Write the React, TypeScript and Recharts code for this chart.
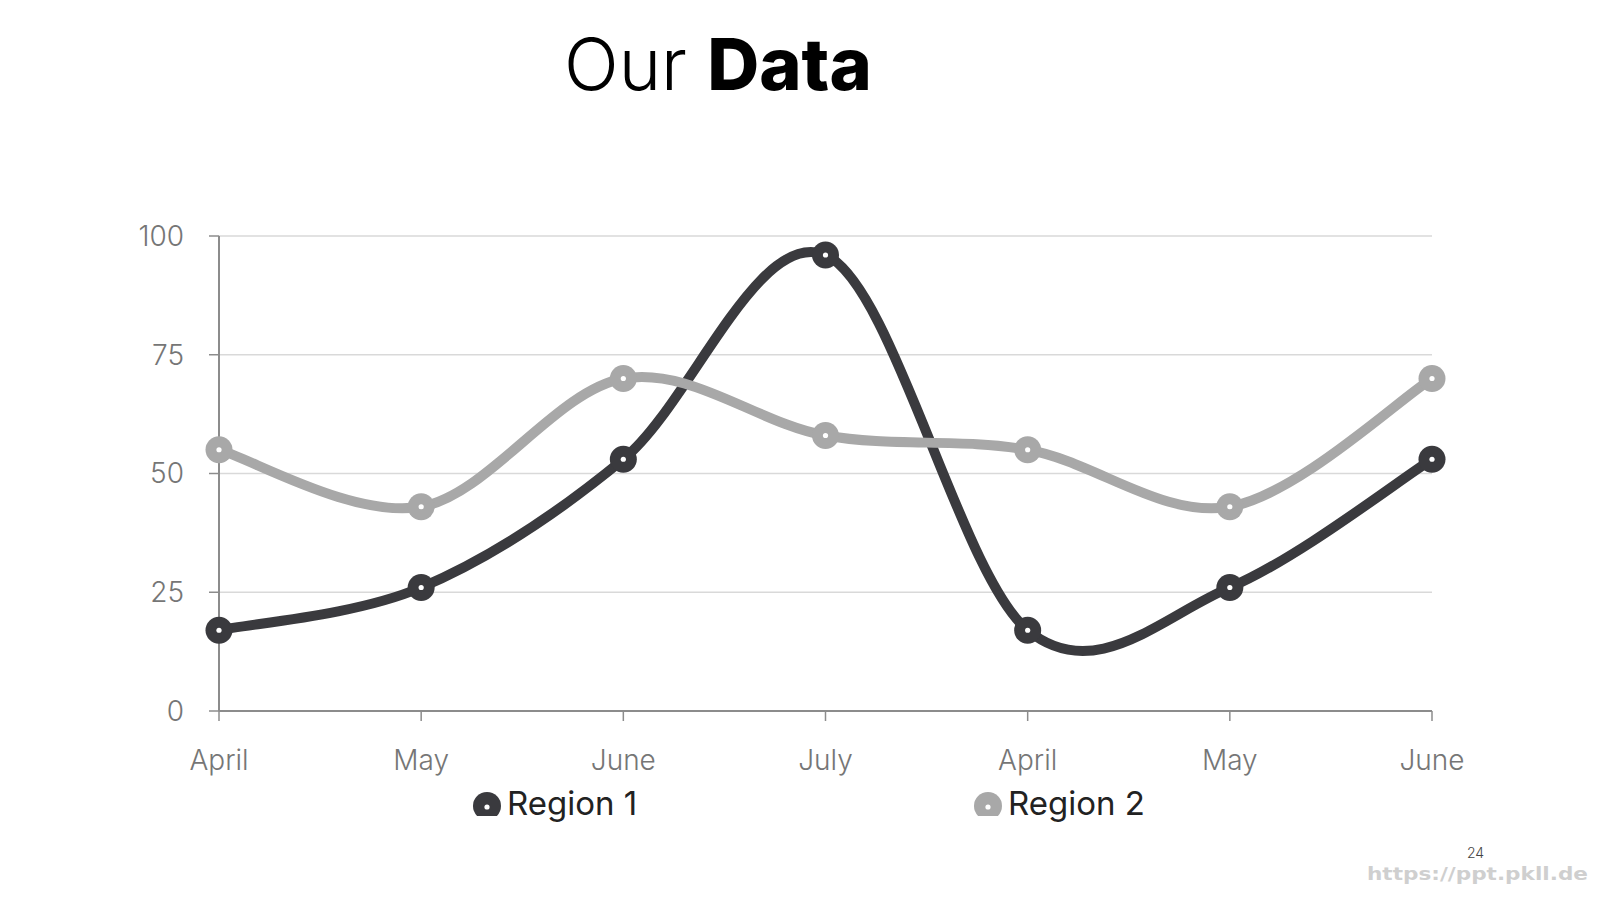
import React from 'react';
import { LineChart, Line, XAxis, YAxis, CartesianGrid } from 'recharts';

const categories = ['April', 'May', 'June', 'July', 'April', 'May', 'June'];
const region1 = [17, 26, 53, 96, 17, 26, 53];
const region2 = [55, 43, 70, 58, 55, 43, 70];
const yTicks = [0, 25, 50, 75, 100];
const seriesNames = ['Region 1', 'Region 2'];

const data = categories.map((c, i) => ({ idx: i, cat: c, r1: region1[i], r2: region2[i] }));

const DARK = '#3a3a3e';
const GREY = '#a8a8a8';
const FONT = 'Inter, "Open Sans", sans-serif';

// Excel-like smoothing (Catmull-Rom / cardinal tension 0)
const curveSmooth = (context: any) => {
  let pts: [number, number][] = [];
  return {
    areaStart() {},
    areaEnd() {},
    lineStart() {
      pts = [];
    },
    lineEnd() {
      if (!pts.length) return;
      context.moveTo(pts[0][0], pts[0][1]);
      for (let i = 0; i < pts.length - 1; i++) {
        const p0 = pts[i - 1] || pts[i];
        const p1 = pts[i];
        const p2 = pts[i + 1];
        const p3 = pts[i + 2] || p2;
        context.bezierCurveTo(
          p1[0] + (p2[0] - p0[0]) / 6,
          p1[1] + (p2[1] - p0[1]) / 6,
          p2[0] - (p3[0] - p1[0]) / 6,
          p2[1] - (p3[1] - p1[1]) / 6,
          p2[0],
          p2[1]
        );
      }
    },
    point(x: number, y: number) {
      pts.push([+x, +y]);
    },
  };
};

const makeDot = (color: string) => (props: any) => {
  const { cx, cy, index } = props;
  if (cx == null || cy == null) return <g key={`d${index}`} />;
  return (
    <g key={`d${color}${index}`}>
      <circle cx={cx} cy={cy} r={13.5} fill={color} />
      <circle cx={cx} cy={cy} r={2.6} fill="#ffffff" />
    </g>
  );
};

const LegendIcon = ({ x, y, color }: { x: number; y: number; color: string }) => (
  <g>
    <clipPath id={`clip${color.replace('#', '')}`}>
      <rect x={x - 16} y={y - 16} width={32} height={26} />
    </clipPath>
    <circle cx={x} cy={y} r={14} fill={color} clipPath={`url(#clip${color.replace('#', '')})`} />
    <circle cx={x} cy={y + 1} r={2.6} fill="#fff" />
  </g>
);

export default function App() {
  return (
    <div style={{ position: 'absolute', left: 0, top: 0, width: 1600, height: 900, background: '#fff' }}>
      <LineChart
        width={1600}
        height={900}
        data={data}
        margin={{ top: 236, right: 168, left: 159, bottom: 129 }}
      >
        <CartesianGrid horizontal vertical={false} stroke="#d9d9d9" strokeWidth={1.5} />
        <XAxis
          dataKey="idx"
          type="category"
          height={60}
          tickFormatter={(v: any) => categories[v]}
          tickSize={10}
          tickMargin={29}
          axisLine={{ stroke: '#8c8c8c', strokeWidth: 2 }}
          tickLine={{ stroke: '#8c8c8c', strokeWidth: 1.5 }}
          tick={{ fill: '#767676', fontSize: 28, fontFamily: FONT, fontWeight: 300 }}
          interval={0}
        />
        <YAxis
          width={60}
          domain={[0, 100]}
          ticks={yTicks}
          tickSize={10}
          tickMargin={25}
          axisLine={{ stroke: '#8c8c8c', strokeWidth: 2 }}
          tickLine={{ stroke: '#8c8c8c', strokeWidth: 1.5 }}
          tick={{ fill: '#767676', fontSize: 28, fontFamily: FONT, fontWeight: 300 }}
        />
        <Line
          dataKey="r1"
          name={seriesNames[0]}
          type={curveSmooth as any}
          stroke={DARK}
          strokeWidth={10}
          dot={makeDot(DARK)}
          activeDot={false}
          isAnimationActive={false}
        />
        <Line
          dataKey="r2"
          name={seriesNames[1]}
          type={curveSmooth as any}
          stroke={GREY}
          strokeWidth={10}
          dot={makeDot(GREY)}
          activeDot={false}
          isAnimationActive={false}
        />
      </LineChart>
      <svg
        width={1600}
        height={900}
        style={{ position: 'absolute', left: 0, top: 0, pointerEvents: 'none' }}
      >
        <text x={564} y={90} fontFamily={FONT} fontSize={72} fill="#000">
          <tspan fontWeight={300}>Our </tspan>
          <tspan fontWeight={800}>Data</tspan>
        </text>
        <LegendIcon x={487} y={806} color={DARK} />
        <text x={507} y={815} fontFamily={FONT} fontSize={33} fontWeight={400} fill="#222">
          {seriesNames[0]}
        </text>
        <LegendIcon x={988} y={806} color={GREY} />
        <text x={1008} y={815} fontFamily={FONT} fontSize={33} fontWeight={400} fill="#222">
          {seriesNames[1]}
        </text>
        <text x={1467} y={858} fontFamily={FONT} fontSize={14} fontWeight={300} fill="#444">
          24
        </text>
        <text
          x={1367}
          y={880}
          fontFamily="'DejaVu Sans', sans-serif"
          fontSize={17}
          fontWeight={700}
          fill="#cfcfcf"
          textLength={221}
          lengthAdjust="spacingAndGlyphs"
        >
          https://ppt.pkll.de
        </text>
      </svg>
    </div>
  );
}
